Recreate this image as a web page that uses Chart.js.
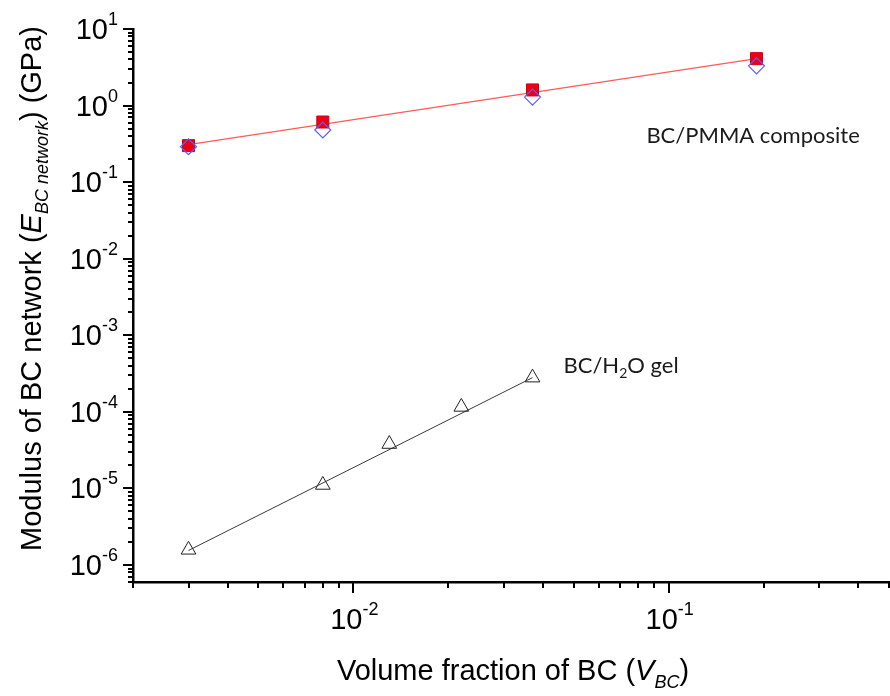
<!DOCTYPE html>
<html>
<head>
<meta charset="utf-8">
<script src="https://cdn.jsdelivr.net/npm/chart.js@4.4.1/dist/chart.umd.min.js"></script>
<style>
  html, body { margin: 0; padding: 0; background: #fff; }
  #wrap { width: 890px; height: 696px; }
</style>
</head>
<body>
<div id="wrap"><canvas id="myChart" width="890" height="696"></canvas></div>
<script>
// BC/PMMA composite: measured (squares), predicted (diamonds), power-law fit
var pmmaX = [0.003, 0.008, 0.037, 0.19];
var pmmaMeasured = [0.30, 0.61, 1.6, 4.1];
var pmmaPredicted = [0.29, 0.48, 1.29, 3.3];
var pmmaFitX = [0.003, 0.19];
var pmmaFitY = [0.31, 4.1];

// BC/H2O gel
var gelX = [0.003, 0.008, 0.013, 0.022, 0.037];
var gelY = [1.58e-6, 1.11e-5, 3.8e-5, 1.16e-4, 2.8e-4];
var gelFitX = [0.003, 0.037];
var gelFitY = [1.55e-6, 2.8e-4];

// axis ranges and ticks
var xMin = 0.002, xMax = 0.5;
var yMin = 6e-7, yMax = 10;
var xMajor = [0.01, 0.1];
var xMinor = [0.002, 0.003, 0.004, 0.005, 0.006, 0.007, 0.008, 0.009,
              0.02, 0.03, 0.04, 0.05, 0.06, 0.07, 0.08, 0.09,
              0.2, 0.3, 0.4, 0.5];
var yMajor = [1e-6, 1e-5, 1e-4, 1e-3, 1e-2, 1e-1, 1, 10];
var yMinor = [6e-7, 7e-7, 8e-7, 9e-7];
[1e-6, 1e-5, 1e-4, 1e-3, 1e-2, 1e-1, 1].forEach(function (d) {
    for (var k = 2; k <= 9; k++) yMinor.push(k * d);
});

function pts(xs, ys) {
    return xs.map(function (x, i) { return {x: x, y: ys[i]}; });
}

var AX_FONT = '"Liberation Sans", Arial, sans-serif';
var NOTE_FONT = 'Lato, "Open Sans", sans-serif';

function font(size, italic, family) {
    return (italic ? 'italic ' : '') + size + 'px ' + family;
}

// draw a list of text runs (with sub/superscripts) starting at x,y (baseline)
function runsWidth(ctx, runs) {
    var w = 0;
    runs.forEach(function (r) {
        ctx.font = font(r.size, r.italic, r.family);
        w += ctx.measureText(r.t).width;
    });
    return w;
}
function drawRuns(ctx, runs, x, y, align) {
    var w = runsWidth(ctx, runs);
    var cx = x;
    if (align === 'center') cx = x - w / 2;
    if (align === 'right') cx = x - w;
    ctx.textAlign = 'left';
    ctx.textBaseline = 'alphabetic';
    runs.forEach(function (r) {
        ctx.font = font(r.size, r.italic, r.family);
        ctx.fillText(r.t, cx, y + (r.dy || 0));
        cx += ctx.measureText(r.t).width;
    });
}

function powerRuns(v) {
    var e = Math.round(Math.log10(v));
    return [
        {t: '10', size: 29, family: AX_FONT},
        {t: String(e), size: 18, family: AX_FONT, dy: -14}
    ];
}

//Tick marks, tick labels, axis titles and notes drawn over the log scales
var axisDecor = {
    id: 'axisDecor',
    afterDraw: function (chart) {
        var ctx = chart.ctx;
        var xs = chart.scales.x, ys = chart.scales.y;
        var area = chart.chartArea;
        ctx.save();
        ctx.strokeStyle = '#000';
        ctx.fillStyle = '#000';
        ctx.lineWidth = 2;

        // x ticks
        xMinor.concat(xMajor).forEach(function (v) {
            var px = Math.round(xs.getPixelForValue(v));
            var len = xMajor.indexOf(v) >= 0 ? 11 : 6;
            ctx.beginPath();
            ctx.moveTo(px, area.bottom);
            ctx.lineTo(px, area.bottom + len);
            ctx.stroke();
        });
        // y ticks
        yMinor.concat(yMajor).forEach(function (v) {
            var py = Math.round(ys.getPixelForValue(v));
            var len = yMajor.indexOf(v) >= 0 ? 10 : 5;
            ctx.beginPath();
            ctx.moveTo(area.left, py);
            ctx.lineTo(area.left - len, py);
            ctx.stroke();
        });

        // tick labels
        xMajor.forEach(function (v) {
            var px = xs.getPixelForValue(v);
            drawRuns(ctx, powerRuns(v), px + 1, area.bottom + 47, 'center');
        });
        yMajor.forEach(function (v) {
            var py = ys.getPixelForValue(v);
            drawRuns(ctx, powerRuns(v), area.left - 15, py + 10, 'right');
        });

        // x title
        drawRuns(ctx, [
            {t: 'Volume fraction of BC (', size: 29, family: AX_FONT},
            {t: 'V', size: 29, italic: true, family: AX_FONT},
            {t: 'BC', size: 18, italic: true, family: AX_FONT, dy: 8},
            {t: ')', size: 29, family: AX_FONT}
        ], (area.left + area.right) / 2 + 2, area.bottom + 98, 'center');

        // y title
        ctx.save();
        ctx.translate(41, (area.top + area.bottom) / 2 - 17);
        ctx.rotate(-Math.PI / 2);
        drawRuns(ctx, [
            {t: 'Modulus of BC network (', size: 29, family: AX_FONT},
            {t: 'E', size: 29, italic: true, family: AX_FONT},
            {t: 'BC network', size: 18, italic: true, family: AX_FONT, dy: 7},
            {t: ') (GPa)', size: 29, family: AX_FONT}
        ], 0, 0, 'center');
        ctx.restore();

        // notes
        ctx.fillStyle = '#1a1a1a';
        drawRuns(ctx, [{t: 'BC/PMMA composite', size: 22, family: NOTE_FONT}],
            xs.getPixelForValue(0.085), ys.getPixelForValue(0.41) + 8, 'left');
        drawRuns(ctx, [
            {t: 'BC/H', size: 22, family: NOTE_FONT},
            {t: '2', size: 14, family: NOTE_FONT, dy: 5},
            {t: 'O gel', size: 22, family: NOTE_FONT}
        ], xs.getPixelForValue(0.0464), ys.getPixelForValue(4.1e-4) + 8, 'left');

        ctx.restore();
    }
};

var ctx = document.getElementById('myChart').getContext('2d');
var myChart = new Chart(ctx, {
    type: 'scatter',
    data: {
        datasets: [{
            label: 'BC/PMMA predicted',
            data: pts(pmmaX, pmmaPredicted),
            pointStyle: 'rectRot',
            pointRadius: 8,
            borderColor: '#5c5cff',
            backgroundColor: 'rgba(0,0,0,0)',
            borderWidth: 1.2
        }, {
            label: 'BC/PMMA measured',
            data: pts(pmmaX, pmmaMeasured),
            pointStyle: 'rect',
            pointRadius: 8.5,
            borderColor: '#d40012',
            backgroundColor: '#ee0016',
            borderWidth: 1
        }, {
            label: 'BC/PMMA fit',
            data: pts(pmmaFitX, pmmaFitY),
            showLine: true,
            pointRadius: 0,
            borderColor: '#ff5a5a',
            borderWidth: 1.3
        }, {
            label: 'BC/H2O gel',
            data: pts(gelX, gelY),
            pointStyle: 'triangle',
            pointRadius: 8.5,
            borderColor: '#222',
            backgroundColor: 'rgba(0,0,0,0)',
            borderWidth: 1
        }, {
            label: 'BC/H2O fit',
            data: pts(gelFitX, gelFitY),
            showLine: true,
            pointRadius: 0,
            borderColor: '#3a3a3a',
            borderWidth: 1
        }]
    },
    options: {
        responsive: false,
        animation: false,
        layout: { autoPadding: false, padding: { left: 133, right: 1, top: 29, bottom: 114 } },
        plugins: {
            legend: { display: false },
            tooltip: { enabled: false }
        },
        scales: {
            x: {
                type: 'logarithmic',
                min: xMin, max: xMax,
                bounds: 'data',
                grid: { display: false, drawTicks: false },
                ticks: { display: false },
                border: { display: true, color: '#000', width: 2.5 }
            },
            y: {
                type: 'logarithmic',
                min: yMin, max: yMax,
                bounds: 'data',
                grid: { display: false, drawTicks: false },
                ticks: { display: false },
                border: { display: true, color: '#000', width: 2.5 }
            }
        }
    },
    plugins: [axisDecor]
});
</script>
</body>
</html>
